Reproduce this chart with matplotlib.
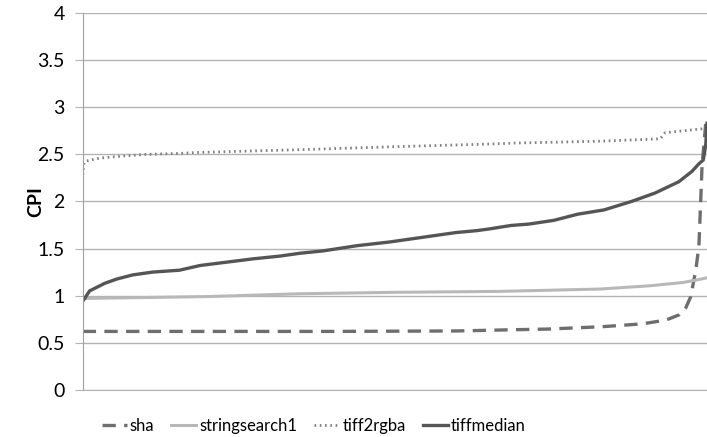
import matplotlib.pyplot as plt
import numpy as np

plt.rcParams['font.family'] = ['Lato', 'DejaVu Sans']

# posiciones de muestra (0-100, ordenadas por CPI) y valores de CPI por benchmark
sha_x = [0, 20, 40, 60, 68.4, 74.5, 83.2, 89.6, 93.4, 95.5, 96.6, 97.4, 98.2, 98.7, 99.0, 99.2, 99.5, 99.8, 100]
sha_y = [0.62, 0.62, 0.62, 0.625, 0.637, 0.645, 0.67, 0.70, 0.74, 0.795, 0.87, 0.99, 1.27, 1.52, 2.02, 2.37, 2.6, 2.83, 2.83]

ss_x = [0, 20, 34.8, 50, 66.8, 82.9, 90.9, 96.2, 99.0, 100]
ss_y = [0.97, 0.99, 1.02, 1.035, 1.045, 1.07, 1.105, 1.14, 1.175, 1.19]

rgba_x = [0, 0.2, 0.6, 2.7, 6.0, 10.2, 15.5, 18.3, 34.8, 49.2, 65.3, 69.2, 82.9, 92.5, 93.3, 99.0, 100]
rgba_y = [2.28, 2.41, 2.43, 2.46, 2.48, 2.50, 2.51, 2.52, 2.55, 2.58, 2.61, 2.62, 2.64, 2.665, 2.73, 2.77, 2.77]

med_x = [0, 1.1, 3.5, 5.4, 8.0, 11.2, 15.5, 18.8, 23.0, 27.2, 31.6, 34.8, 38.5, 43.9, 49.2, 54.5, 59.8, 63.1, 65.3, 68.6,
         71.5, 75.5, 79.3, 83.5, 87.9, 91.7, 95.5, 97.6, 98.7, 99.4, 99.8, 100]
med_y = [0.94, 1.05, 1.13, 1.175, 1.22, 1.25, 1.27, 1.32, 1.355, 1.39, 1.42, 1.45, 1.475, 1.53, 1.57, 1.62, 1.67, 1.69,
         1.71, 1.745, 1.76, 1.80, 1.865, 1.91, 2.0, 2.09, 2.21, 2.32, 2.40, 2.44, 2.6, 2.83]

fig = plt.figure(figsize=(7.07, 4.37), dpi=100)
ax = fig.add_axes([0.117, 0.108, 0.883, 0.862])

ax.plot(sha_x, sha_y, color='#6e6e6e', lw=2.4, linestyle=(0, (4, 2.5)), label='sha')
ax.plot(ss_x, ss_y, color='#b8b8b8', lw=2.2, label='stringsearch1')
ax.plot(rgba_x, rgba_y, color='#808080', lw=2.0, linestyle=(0, (0.6, 1.3)), label='tiff2rgba')
ax.plot(med_x, med_y, color='#555555', lw=2.4, label='tiffmedian')

ax.set_xlim(0, 100)
ax.set_ylim(0, 4)
ax.set_yticks(np.arange(0, 4.01, 0.5))
ax.set_yticklabels(['0', '0.5', '1', '1.5', '2', '2.5', '3', '3.5', '4'])
ax.set_xticks([])
ax.grid(axis='y', color='#b3b3b3', lw=1.0)
ax.set_axisbelow(True)
for side in ['top', 'right']:
    ax.spines[side].set_visible(False)
ax.spines['left'].set_color('#a0a0a0')
ax.spines['bottom'].set_color('#b3b3b3')
ax.tick_params(axis='y', length=6, color='#b3b3b3', labelsize=14, pad=7)
ax.set_ylabel('CPI', fontsize=14, fontweight='bold')
ax.yaxis.set_label_coords(-0.062, 0.5)

ax.legend(loc='upper center', bbox_to_anchor=(0.37, -0.035), ncol=4, frameon=False, fontsize=12,
          handlelength=1.5, handletextpad=0.2, columnspacing=1.0)

fig.savefig('out.png', dpi=100)
